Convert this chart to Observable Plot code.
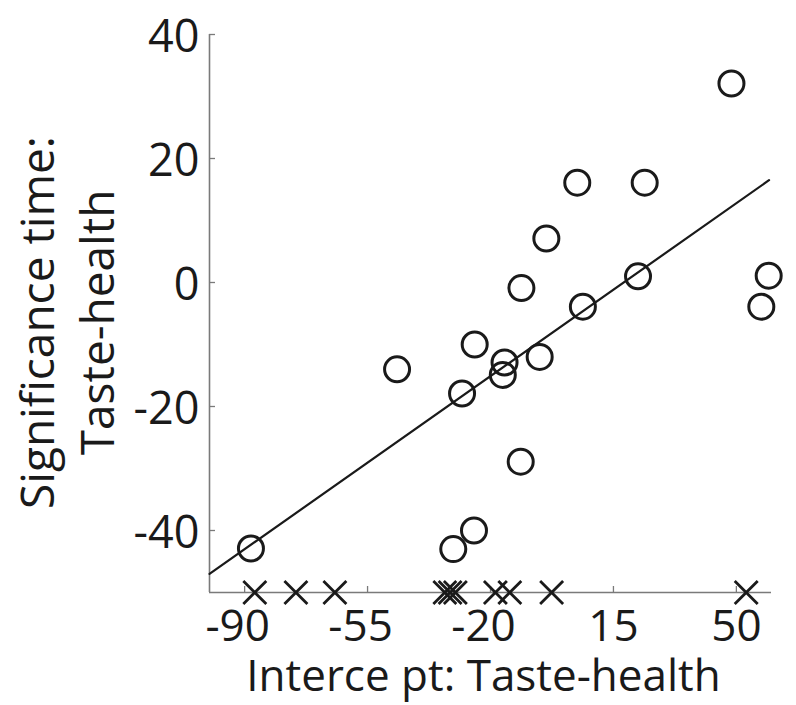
<!DOCTYPE html>
<html>
<head>
<meta charset="utf-8">
<script src="https://cdn.jsdelivr.net/npm/d3@7"></script>
<script src="https://cdn.jsdelivr.net/npm/@observablehq/plot@0.6"></script>
<style>
  html, body { margin: 0; padding: 0; background: #fff; }
</style>
</head>
<body>
<div id="chart"></div>
<script>
// Significant subjects (circles)
const circleX = [-88.2, -46.6, -30.6, -24.7, -28.1, -24.5, -16.0, -16.5, -6.0, -11.2, -11.4, -4.1, 4.7, 6.3, 23.9, 22.0, 48.6, 59.2, 57.1];
const circleY = [-42.9, -14.0, -43.0, -40.0, -17.9, -10.0, -12.9, -14.9, -12.0, -0.9, -28.9, 7.1, 16.1, -3.9, 16.1, 1.0, 32.1, 1.1, -3.9];
// Non-significant subjects (crosses on the floor)
const crossX = [-87.1, -75.4, -64.3, -33.0, -31.5, -30.0, -18.6, -14.5, -2.6, 52.8];
const crossY = [-50, -50, -50, -50, -50, -50, -50, -50, -50, -50];
// Regression line end points
const fitX = [-100, 59.3];
const fitY = [-47.0, 16.5];
// Axes
const xTicks = [-90, -55, -20, 15, 50];
const yTicks = [-40, -20, 0, 20, 40];
const xDomain = [-100, 60];
const yDomain = [-50, 40];
const xLabel = "Interce pt: Taste-health";
const yLabel = "Significance time:\nTaste-health";

const circles = circleX.map((x, i) => ({x, y: circleY[i]}));
const crosses = crossX.map((x, i) => ({x, y: crossY[i]}));
const fit = fitX.map((x, i) => ({x, y: fitY[i]}));

const W = 796, H = 705;
const mL = 209, mR = 25, mT = 34, mB = 113;
const frameW = W - mL - mR, frameH = H - mT - mB;
const axisColor = "#7a7a7a";
const ink = "#1a1a1a";
const fmt = d => (d < 0 ? "-" + Math.abs(d) : String(d));

const chart = Plot.plot({
  width: W,
  height: H,
  marginLeft: mL,
  marginRight: mR,
  marginTop: mT,
  marginBottom: mB,
  x: {domain: xDomain, label: null},
  y: {domain: yDomain, label: null},
  style: {fontFamily: "'Open Sans', sans-serif", background: "#fff", color: ink},
  marks: [
    // inward ticks
    Plot.ruleX(xTicks, {x: d => d, stroke: axisColor, strokeWidth: 1.3, insetTop: frameH - 6}),
    Plot.ruleY(yTicks, {y: d => d, stroke: axisColor, strokeWidth: 1.3, insetRight: frameW - 6}),
    // axis lines
    Plot.ruleY([yDomain[0]], {stroke: axisColor, strokeWidth: 1.6}),
    Plot.ruleX([xDomain[0]], {stroke: axisColor, strokeWidth: 1.6}),
    // tick labels
    Plot.axisY(yTicks, {tickSize: 0, tickPadding: 10, tickFormat: fmt, fontSize: 45, dy: 3, fill: ink, label: null}),
    Plot.axisX(xTicks.filter(d => d < 0), {tickSize: 0, tickPadding: 17, tickFormat: fmt, fontSize: 44, dx: -7, fill: ink, label: null}),
    Plot.axisX(xTicks.filter(d => d >= 0), {tickSize: 0, tickPadding: 17, tickFormat: fmt, fontSize: 44, fill: ink, label: null}),
    // regression line
    Plot.line(fit, {x: "x", y: "y", stroke: ink, strokeWidth: 2.2}),
    // data
    Plot.dot(circles, {x: "x", y: "y", r: 12.5, stroke: ink, strokeWidth: 3, fill: "none"}),
    Plot.dot(crosses, {x: "x", y: "y", symbol: "times", r: 10.5, stroke: ink, strokeWidth: 2.8}),
    // axis titles
    Plot.text([yLabel], {text: d => d, frameAnchor: "left", textAnchor: "middle", lineAnchor: "middle",
      rotate: -90, lineHeight: 1.3, fontSize: 46, fill: ink, dx: -145, dy: 9}),
    Plot.text([xLabel], {text: d => d, frameAnchor: "bottom", textAnchor: "middle", lineAnchor: "bottom",
      fontSize: 44, fill: ink, dx: -7, dy: 98})
  ]
});

document.getElementById("chart").appendChild(chart);
</script>
</body>
</html>
